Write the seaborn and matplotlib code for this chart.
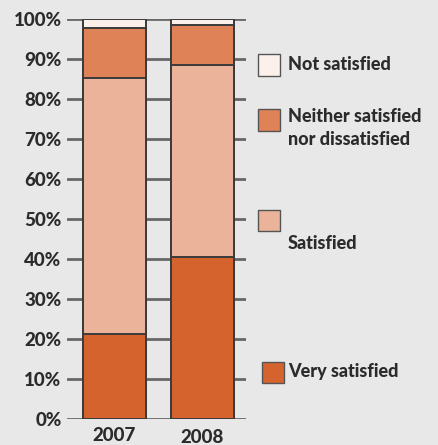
import matplotlib
matplotlib.use("Agg")
import matplotlib.pyplot as plt
import matplotlib.patches as mpatches
import seaborn as sns
import pandas as pd
import numpy as np

years = ["2007", "2008"]
very_satisfied = [21.4, 40.5]
satisfied = [63.8, 48.1]
neither = [12.6, 9.8]
not_satisfied = [2.2, 1.6]
yticks = [0, 10, 20, 30, 40, 50, 60, 70, 80, 90, 100]
ytick_labels = ["0%", "10%", "20%", "30%", "40%", "50%", "60%", "70%", "80%", "90%", "100%"]

colors = {"Very satisfied": "#d5632d", "Satisfied": "#ebb399",
          "Neither satisfied\nnor dissatisfied": "#e08257", "Not satisfied": "#fcf0eb"}

sns.set_theme(style="white")
plt.rcParams["font.family"] = ["Lato", "DejaVu Sans"]

bg = "#e8e8e8"
txt = "#2b2b2b"
edge = "#3a3a3a"
FW = "black"

fig = plt.figure(figsize=(4.39, 4.45), dpi=100, facecolor=bg)
ax = fig.add_axes([67 / 439, 1 - 419.3 / 445, 179 / 439, 400.3 / 445])
ax.set_facecolor(bg)

vs = np.array(very_satisfied)
sa = vs + np.array(satisfied)
ne = sa + np.array(neither)
ns = ne + np.array(not_satisfied)
stacks = [("Not satisfied", ns), ("Neither satisfied\nnor dissatisfied", ne),
          ("Satisfied", sa), ("Very satisfied", vs)]

for name, cum in stacks:
    df = pd.DataFrame({"year": years, "value": cum})
    sns.barplot(data=df, x="year", y="value", color=colors[name], saturation=1,
                width=0.716, edgecolor=edge, linewidth=1.4, errorbar=None, ax=ax, zorder=3)

ax.set_xlim(-0.54, 1.494)
ax.set_ylim(0, 100)
ax.set_yticks(yticks)
ax.set_yticklabels(ytick_labels)
ax.yaxis.grid(True, color="#686868", linewidth=2.0, zorder=0)
ax.xaxis.grid(False)
ax.set_axisbelow(True)
for s in ax.spines.values():
    s.set_visible(False)
ax.tick_params(axis="y", length=0, pad=4, labelsize=13.5, labelcolor=txt)
ax.tick_params(axis="x", length=0, pad=5.5, labelsize=13.5, labelcolor=txt)
for lab in ax.get_xticklabels() + ax.get_yticklabels():
    lab.set_fontweight(FW)
xl = ax.get_xticklabels()
xl[1].set_y(-0.004)
ax.set_xlabel("")
ax.set_ylabel("")

# legend
W, H = 439, 445
def patch(x0, y0, x1, y1, c):
    fig.patches.append(mpatches.Rectangle((x0 / W, 1 - y1 / H), (x1 - x0) / W, (y1 - y0) / H,
                                          transform=fig.transFigure, facecolor=c,
                                          edgecolor="#555555", linewidth=1.0))
def label(x, y, s):
    fig.text(x / W, 1 - y / H, s, ha="left", va="center", fontsize=13, fontweight=FW,
             color=txt, linespacing=1.45)

patch(258, 54, 280, 75.5, colors["Not satisfied"])
label(288, 64.5, "Not satisfied")
patch(258, 109.5, 280, 131, colors["Neither satisfied\nnor dissatisfied"])
label(288, 128, "Neither satisfied\nnor dissatisfied")
patch(258, 209.5, 280, 231.5, colors["Satisfied"])
label(288, 243, "Satisfied")
patch(262, 361.5, 284, 383, colors["Very satisfied"])
label(288, 372, "Very satisfied")

fig.savefig("out.png", dpi=100, facecolor=bg)
